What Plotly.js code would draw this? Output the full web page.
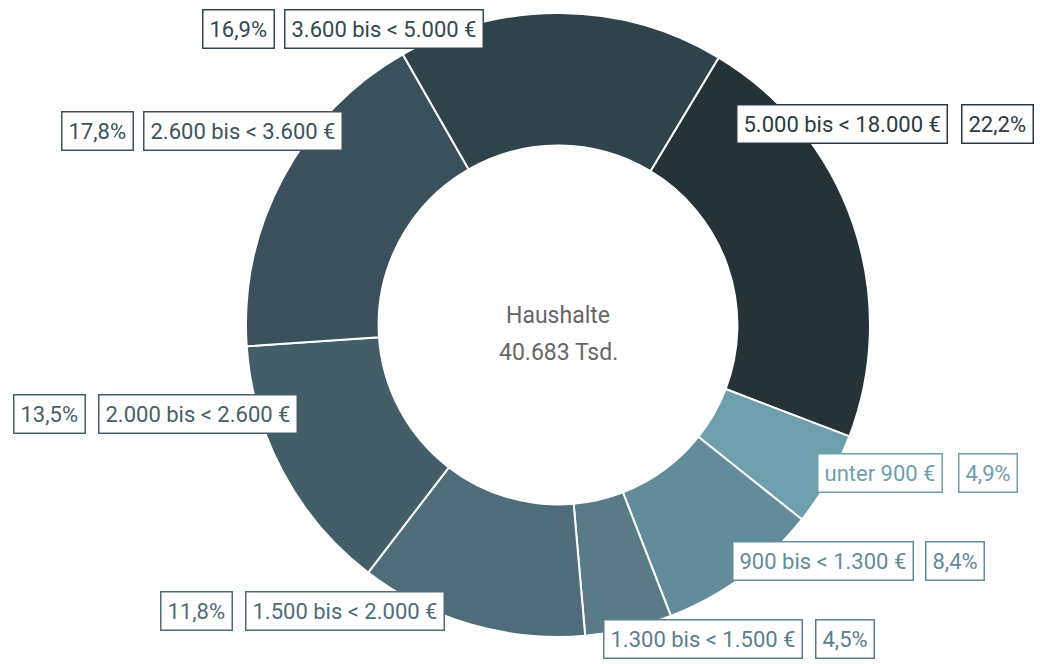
<!DOCTYPE html>
<html>
<head>
<meta charset="utf-8">
<script src="https://cdn.plot.ly/plotly-3.0.1.min.js"></script>
<style>
  html, body { margin: 0; padding: 0; background: #fff; }
  #chart { width: 1040px; height: 664px; }
</style>
</head>
<body>
<div id="chart"></div>
<script>
// Haushalte nach monatlichem Nettoeinkommen, Anteile in %
const categories = [
  '5.000 bis < 18.000 €',
  'unter 900 €',
  '900 bis < 1.300 €',
  '1.300 bis < 1.500 €',
  '1.500 bis < 2.000 €',
  '2.000 bis < 2.600 €',
  '2.600 bis < 3.600 €',
  '3.600 bis < 5.000 €'
];
const shares = [22.2, 4.9, 8.4, 4.5, 11.8, 13.5, 17.8, 16.9];
const centerText = ['Haushalte', '40.683 Tsd.'];

const sliceColors = ['#253338', '#6e9fad', '#628c9a', '#587b86', '#4e6d78', '#435e67', '#3a505a', '#30434a'];
const textColors  = ['#2b3a40', '#6e9fad', '#628c9a', '#5a808b', '#4e6d78', '#456069', '#3d535c', '#34474e'];

// label box centres in pixels [name box x, percent box x, y]
const labelPos = [
  [842, 997, 124],
  [880, 988, 473],
  [823, 955, 561],
  [703, 845, 639],
  [345, 196, 611],
  [198, 49, 414],
  [243, 97, 131],
  [384, 238, 29]
];

const W = 1040, H = 664;
const fmt = v => v.toFixed(1).replace('.', ',') + '%';

const trace = {
  type: 'pie',
  labels: categories,
  values: shares,
  hole: 0.575,
  sort: false,
  direction: 'clockwise',
  rotation: 31,
  textinfo: 'none',
  hoverinfo: 'label+percent',
  marker: { colors: sliceColors, line: { color: '#ffffff', width: 2 } },
  domain: { x: [246 / W, 870 / W], y: [1 - 637 / H, 1 - 13 / H] },
  showlegend: false
};

let annotations = [];
categories.forEach((c, i) => {
  const p = labelPos[i];
  const box = {
    xref: 'paper', yref: 'paper',
    y: 1 - p[2] / H,
    xanchor: 'center', yanchor: 'middle',
    showarrow: false,
    bgcolor: '#ffffff',
    bordercolor: textColors[i],
    borderwidth: 1.5,
    borderpad: 6,
    font: { family: 'Roboto', size: 22, color: textColors[i] }
  };
  annotations.push(Object.assign({}, box, { x: p[0] / W, text: c }));
  annotations.push(Object.assign({}, box, { x: p[1] / W, text: fmt(shares[i]) }));
});

// centre caption, one line per annotation for wider line spacing
[316, 352].forEach((py, k) => {
  annotations.push({
    xref: 'paper', yref: 'paper',
    x: 558 / W, y: 1 - py / H,
    xanchor: 'center', yanchor: 'middle',
    showarrow: false,
    text: centerText[k],
    font: { family: 'Roboto', size: 23, color: '#666666' }
  });
});

const layout = {
  width: W,
  height: H,
  margin: { l: 0, r: 0, t: 0, b: 0 },
  paper_bgcolor: '#ffffff',
  showlegend: false,
  annotations: annotations
};

Plotly.newPlot('chart', [trace], layout, { displayModeBar: false, staticPlot: true });
</script>
</body>
</html>
